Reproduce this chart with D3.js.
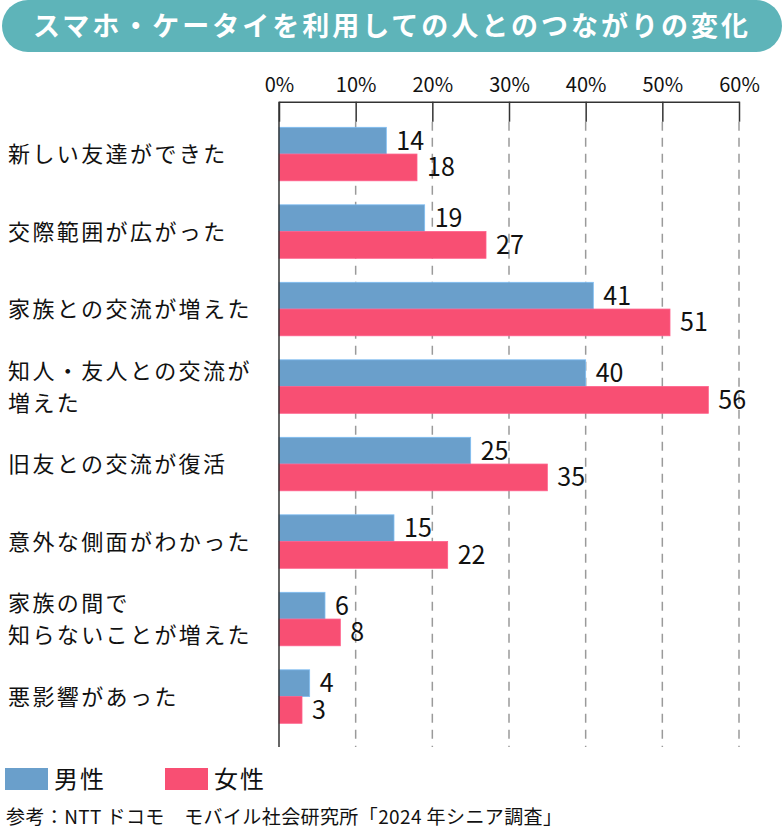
<!DOCTYPE html>
<html lang="ja">
<head>
<meta charset="utf-8">
<script src="https://cdn.jsdelivr.net/npm/d3@7"></script>
<style>
  body { margin: 0; background: #fff; }
  text { font-family: "Noto Sans CJK JP", "Noto Sans", sans-serif; fill: #111; }
</style>
</head>
<body>
<div id="vis-container"></div>
<script>
// data
const categories = [
  "新しい友達ができた",
  "交際範囲が広がった",
  "家族との交流が増えた",
  "知人・友人との交流が\n増えた",
  "旧友との交流が復活",
  "意外な側面がわかった",
  "家族の間で\n知らないことが増えた",
  "悪影響があった"
];
const maleValues = [14, 19, 41, 40, 25, 15, 6, 4];
const femaleValues = [18, 27, 51, 56, 35, 22, 8, 3];
const seriesNames = ["男性", "女性"];
const tickValues = [0, 10, 20, 30, 40, 50, 60];

const titleText = "スマホ・ケータイを利用しての人とのつながりの変化";
const sourceText = "参考：NTT ドコモ　モバイル社会研究所「2024 年シニア調査」";

const colors = { "男性": "#6a9fcb", "女性": "#f84f73" };

let width = 784;
let height = 830;

let svg = d3.select("#vis-container")
  .append("svg")
  .attr("width", width)
  .attr("height", height);

// title pill
svg.append("rect")
  .attr("x", 2).attr("y", 0)
  .attr("width", 780).attr("height", 52)
  .attr("rx", 26)
  .attr("fill", "#5eb4b9");

svg.append("text")
  .attr("x", width / 2).attr("y", 36)
  .attr("text-anchor", "middle")
  .style("font-size", "27px")
  .style("font-weight", "bold")
  .style("letter-spacing", "3px")
  .style("fill", "#fff")
  .text(titleText);

let x = d3.scaleLinear().domain([0, 60]).range([279, 739]);
let y = d3.scaleBand()
  .domain(categories)
  .range([115.3, 735.3])
  .paddingInner(0.31)
  .paddingOuter(0.155);
let ySub = d3.scaleBand().domain(seriesNames).range([0, y.bandwidth()]);

const axisTop = 101.7;
const gridBottom = 747;

// dashed gridlines
svg.append("g")
  .selectAll("line")
  .data(tickValues.slice(1))
  .enter()
  .append("line")
  .attr("x1", d => x(d)).attr("x2", d => x(d))
  .attr("y1", axisTop + 20).attr("y2", gridBottom)
  .attr("stroke", "#9a9a9a")
  .attr("stroke-width", 1.5)
  .attr("stroke-dasharray", "9,7");

// top axis
let axis = svg.append("g")
  .attr("transform", `translate(0,${axisTop})`)
  .call(d3.axisTop(x)
    .tickValues(tickValues)
    .tickFormat(d => d + "%")
    .tickSizeInner(-20)
    .tickSizeOuter(0)
    .tickPadding(10));
axis.select(".domain").attr("stroke", "#333").attr("stroke-width", 1.5);
axis.selectAll(".tick line").attr("stroke", "#333").attr("stroke-width", 1.5);
axis.selectAll(".tick text")
  .style("font-size", "20px")
  .style("font-family", "'Noto Sans CJK JP', sans-serif")
  .attr("fill", "#111");

// bars
let rows = categories.map((c, i) => ({
  category: c,
  values: [
    { series: "男性", value: maleValues[i] },
    { series: "女性", value: femaleValues[i] }
  ]
}));

let groups = svg.append("g")
  .selectAll("g")
  .data(rows)
  .enter()
  .append("g")
  .attr("transform", d => `translate(0,${y(d.category)})`);

groups.selectAll("rect")
  .data(d => d.values)
  .enter()
  .append("rect")
  .attr("x", x(0))
  .attr("y", d => ySub(d.series))
  .attr("width", d => x(d.value) - x(0))
  .attr("height", ySub.bandwidth())
  .attr("fill", d => colors[d.series])
  .attr("stroke", d => d3.color(colors[d.series]).brighter(0.5))
  .attr("stroke-width", 0.8);

groups.selectAll("text.value")
  .data(d => d.values)
  .enter()
  .append("text")
  .attr("class", "value")
  .attr("x", d => x(d.value) + 10)
  .attr("y", d => ySub(d.series) + ySub.bandwidth() / 2 + 9)
  .style("font-size", "25px")
  .text(d => d.value);

// left solid axis line
svg.append("line")
  .attr("x1", x(0)).attr("x2", x(0))
  .attr("y1", axisTop).attr("y2", gridBottom)
  .attr("stroke", "#333")
  .attr("stroke-width", 1.5);

// category labels
let labels = svg.append("g")
  .selectAll("text")
  .data(categories)
  .enter()
  .append("text")
  .attr("x", 8)
  .attr("y", d => y(d) + y.bandwidth() / 2)
  .style("font-size", "22px")
  .style("letter-spacing", "2.4px");

labels.each(function (d) {
  let lines = d.split("\n");
  let t = d3.select(this);
  let lh = 32;
  let start = 8 - (lines.length - 1) * lh / 2;
  lines.forEach((line, i) => {
    t.append("tspan")
      .attr("x", 8)
      .attr("dy", i === 0 ? start : lh)
      .text(line);
  });
});

// legend
let legend = svg.append("g")
  .selectAll("g")
  .data(seriesNames)
  .enter()
  .append("g")
  .attr("transform", (d, i) => `translate(${5 + i * 160},768)`);

legend.append("rect")
  .attr("width", 43).attr("height", 22)
  .attr("fill", d => colors[d]);

legend.append("text")
  .attr("x", 49).attr("y", 20)
  .style("font-size", "24px")
  .style("letter-spacing", "2px")
  .text(d => d);

// source note
svg.append("text")
  .attr("x", 6).attr("y", 824)
  .style("font-size", "19px")
  .style("letter-spacing", "0.4px")
  .text(sourceText);
</script>
</body>
</html>
